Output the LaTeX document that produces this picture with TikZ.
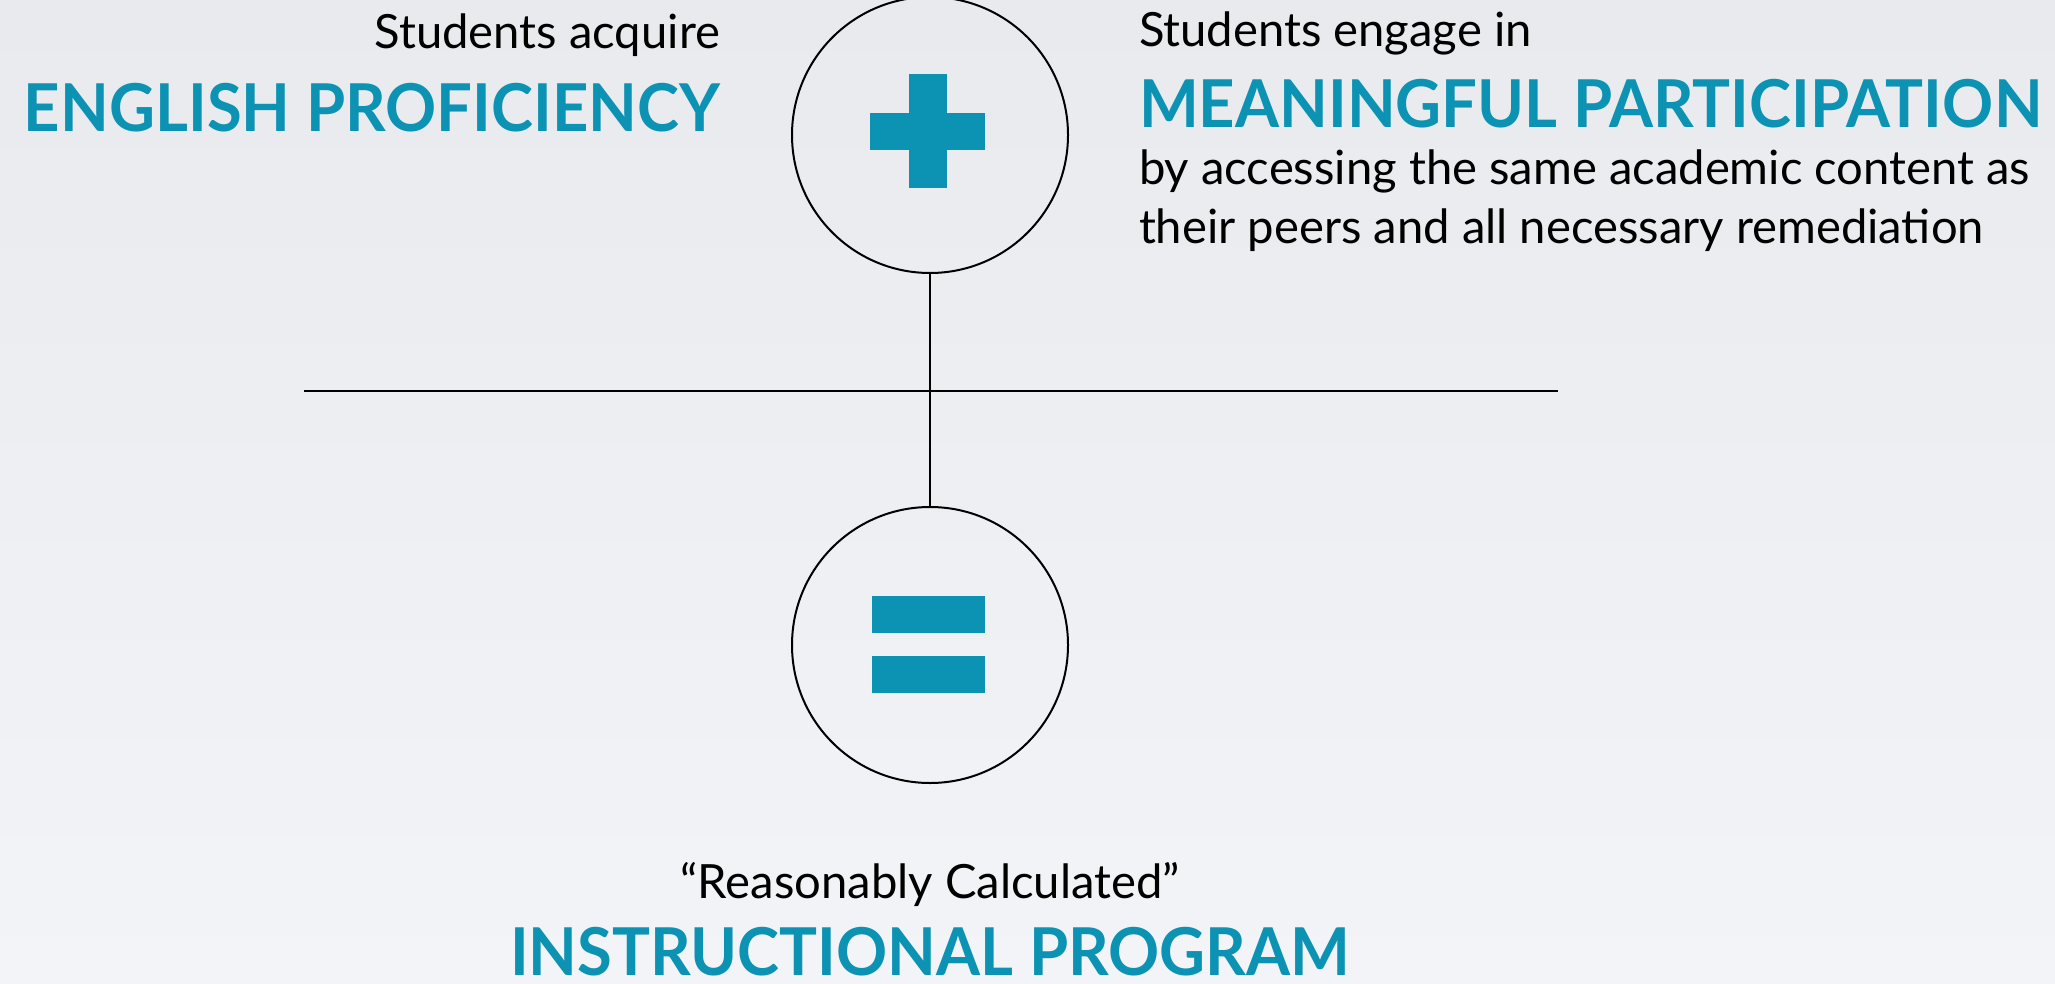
\documentclass[tikz,border=0pt]{standalone}
\usepackage{fontspec}
\setmainfont{Lato}
\newfontfamily\headfont{Lato}[FakeStretch=0.96]
\usepackage{tikz}
\definecolor{hltteal}{RGB}{12,146,178}
\definecolor{bgtop}{RGB}{233,234,237}
\definecolor{bgbottom}{RGB}{243,244,247}

\begin{document}
\begin{tikzpicture}[x=0.5pt,y=-0.5pt,line width=1pt]
  \tikzstyle{every node}=[inner sep=0pt]
  \tikzstyle{plain}=[font=\fontsize{23.6}{28}\selectfont]
  \tikzstyle{headline}=[font=\headfont\fontsize{33}{38}\selectfont\bfseries, text=hltteal]
  \tikzstyle{ring}=[circle, draw, minimum size=138pt]
  \tikzstyle{bar}=[fill=hltteal]
  % backdrop
  \shade[top color=bgtop, bottom color=bgbottom] (0,0) rectangle (2055,984);
  \useasboundingbox (0,0) rectangle (2055,984);

  \node[ring] (plus) at (930,135) {};
  \node[ring] (eq) at (930,645) {};
  % plus sign
  \fill[bar] (870,113) rectangle (985,150);
  \fill[bar] (909,74) rectangle (947,188);
  % equals sign
  \fill[bar] (872,596) rectangle (985,633);
  \fill[bar] (872,656) rectangle (985,693);

  \coordinate (hl) at (304,391);
  \coordinate (hr) at (1558,391);
  \draw (hl) -- (hr);
  \draw (plus) -- (eq);

  \node[plain, anchor=base east] (sa) at (721,49) {Students acquire};
  \node[headline, anchor=base east] (ep) at (721,132) {ENGLISH PROFICIENCY};
  \node[plain, anchor=base west] (se) at (1138,47) {Students engage in};
  \node[headline, anchor=base west] (mp) at (1138,128) {MEANINGFUL PARTICIPATION};
  \node[plain, anchor=base west] (ac) at (1138,185) {by accessing the same academic content as};
  \node[plain, anchor=base west] (pr) at (1138,243) {their peers and all necessary remediation};
  \node[plain, anchor=base] (rc) at (930,898) {“Reasonably Calculated”};
  \node[headline, anchor=base] (ip) at (930,975) {INSTRUCTIONAL PROGRAM};
\end{tikzpicture}
\end{document}
